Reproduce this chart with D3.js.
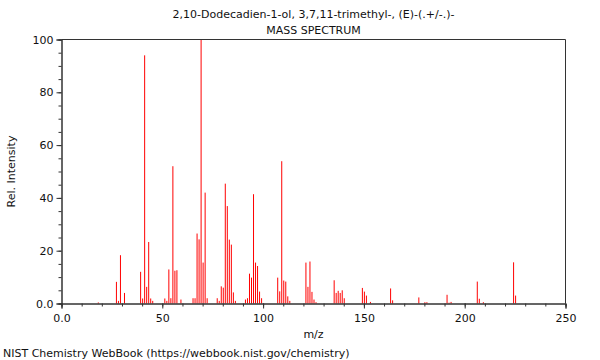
<!DOCTYPE html>
<html>
<head>
<meta charset="utf-8">
<script src="https://cdn.jsdelivr.net/npm/d3@7"></script>
<style>
  body { margin: 0; background: white; }
  svg { font-family: "DejaVu Sans", sans-serif; }
</style>
</head>
<body>
<div id="chart"></div>
<script>
// spectrum peaks
var mz = [18, 27, 28, 29, 31, 39, 40, 41, 42, 43, 44, 45, 51, 52, 53, 54, 55, 56, 57, 59,
  65, 66, 67, 68, 69, 70, 71, 72, 77, 78, 79, 80, 81, 82, 83, 84, 85, 86,
  91, 92, 93, 94, 95, 96, 97, 98, 99, 107, 108, 109, 110, 111, 112, 113,
  121, 122, 123, 124, 125, 126, 135, 136, 137, 138, 139, 140, 149, 150, 151, 153,
  163, 164, 177, 180, 181, 191, 192, 193, 206, 207, 209, 224, 225];
var intensity = [0.4, 8.2, 1.0, 18.3, 4.0, 12.0, 1.9, 94.0, 6.3, 23.3, 1.9, 1.0, 1.9, 1.0, 12.9, 2.0, 52.0, 12.4, 12.6, 1.5,
  2.0, 2.0, 26.5, 24.3, 100, 15.5, 42.0, 2.0, 2.0, 1.0, 6.5, 6.0, 45.4, 36.9, 24.2, 22.3, 4.2, 1.0,
  1.5, 2.0, 11.3, 9.8, 41.4, 15.5, 14.2, 4.5, 2.0, 9.8, 4.6, 53.9, 8.7, 8.3, 2.7, 1.0,
  15.5, 6.3, 15.9, 4.4, 1.5, 0.5, 8.8, 4.0, 4.8, 4.0, 5.0, 2.0, 5.9, 4.5, 3.0, 0.6,
  5.7, 1.2, 2.3, 0.5, 0.5, 3.3, 0.3, 0.6, 8.3, 1.8, 0.5, 15.6, 3.0];
var xTicks = [0, 50, 100, 150, 200, 250];
var yTicks = [0, 20, 40, 60, 80, 100];
var titleLines = ["2,10-Dodecadien-1-ol, 3,7,11-trimethyl-, (E)-(.+/-.)-", "MASS SPECTRUM"];

var app = {};
app.W = 600;
app.H = 360;
app.left = 61.5;
app.top = 39.5;
app.w = 504;
app.h = 264;

var svg = d3.select('#chart').append('svg')
  .attr('width', app.W)
  .attr('height', app.H);

var x = d3.scaleLinear().domain([0, 250]).range([0, app.w]);
var y = d3.scaleLinear().domain([0, 100]).range([app.h, 0]);

var g = svg.append('g')
  .attr('transform', 'translate(' + app.left + ',' + app.top + ')');

// peaks
g.selectAll('line.peak')
  .data(mz)
  .enter()
  .append('line')
  .attr('class', 'peak')
  .attr('x1', function(d){ return x(d) + 0.5; })
  .attr('x2', function(d){ return x(d) + 0.5; })
  .attr('y1', y(0))
  .attr('y2', function(d, i){ return y(intensity[i]); })
  .style('stroke', '#ff0000')
  .style('stroke-width', 1);

// frame
g.append('line').attr('x1', 0).attr('x2', app.w).attr('y1', 0).attr('y2', 0)
  .style('stroke', '#333');
g.append('line').attr('x1', app.w).attr('x2', app.w).attr('y1', 0).attr('y2', app.h)
  .style('stroke', '#333');

// minor ticks
var xAxisMinor = d3.axisBottom(x).tickValues(d3.range(0, 251, 10)).tickSize(3).tickFormat('');
var yAxisMinor = d3.axisLeft(y).tickValues(d3.range(0, 101, 5)).tickSize(3).tickFormat('');
g.append('g').attr('transform', 'translate(0,' + app.h + ')').call(xAxisMinor);
g.append('g').call(yAxisMinor);

// major ticks with labels
var xAxis = d3.axisBottom(x).tickValues(xTicks).tickSize(5).tickPadding(4)
  .tickFormat(function(d){ return d === 0 ? '0.0' : d; });
var yAxis = d3.axisLeft(y).tickValues(yTicks).tickSize(5).tickPadding(3)
  .tickFormat(function(d){ return d === 0 ? '0.0' : d; });
var gx = g.append('g').attr('transform', 'translate(0,' + app.h + ')').call(xAxis);
var gy = g.append('g').call(yAxis);

svg.selectAll('.domain').style('stroke', '#333');
svg.selectAll('.tick line').style('stroke', '#333');
svg.selectAll('.tick text')
  .style('font-family', '"DejaVu Sans", sans-serif')
  .style('font-size', '11px')
  .style('fill', '#111');
gx.selectAll('.tick text').attr('dy', '0.9em');

// titles
titleLines.forEach(function(t, i){
  svg.append('text')
    .attr('x', app.left + app.w / 2)
    .attr('y', 18 + i * 16)
    .attr('text-anchor', 'middle')
    .style('font-size', '11px')
    .style('fill', '#111')
    .text(t);
});

svg.append('text')
  .attr('x', app.left + app.w / 2)
  .attr('y', 338)
  .attr('text-anchor', 'middle')
  .style('font-size', '11px')
  .style('fill', '#111')
  .text('m/z');

svg.append('text')
  .attr('transform', 'translate(15,' + (app.top + app.h / 2) + ') rotate(-90)')
  .attr('text-anchor', 'middle')
  .style('font-size', '11px')
  .style('fill', '#111')
  .text('Rel. Intensity');

svg.append('text')
  .attr('x', 3)
  .attr('y', 357)
  .style('font-size', '11px')
  .style('fill', '#111')
  .text('NIST Chemistry WebBook (https://webbook.nist.gov/chemistry)');
</script>
</body>
</html>
